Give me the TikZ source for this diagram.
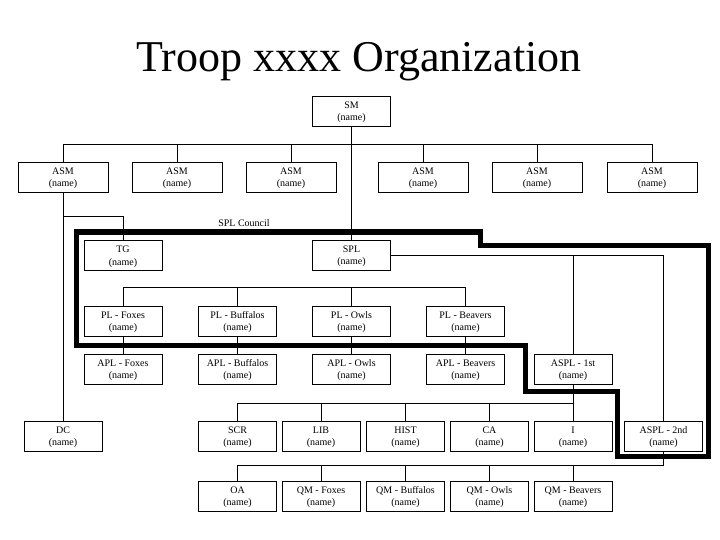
\documentclass[tikz,border=0pt]{standalone}
\usepackage{fontspec}
\setmainfont{Liberation Serif}
\usetikzlibrary{calc}
\tikzset{
  unit/.style={draw, line width=0.8pt, minimum width=78pt, minimum height=30pt,
    inner sep=0pt, align=center, text depth=-1.5pt, font=\fontsize{10}{12.5}\selectfont},
  asm/.style={unit, minimum width=90pt},
  link/.style={line width=0.8pt},
  council/.style={line width=5pt, line join=miter}
}

\begin{document}
\begin{tikzpicture}[x=1pt, y=-1pt]
  \useasboundingbox (0,0) rectangle (720,540);
  \node[font=\fontsize{44}{50}\selectfont, anchor=base] (title) at (359,72) {Troop xxxx Organization};

  % scoutmaster and assistants
  \node[unit] (sm) at (351.5,111) {SM\\(name)};
  \node[asm] (asmA) at (63,177) {ASM\\(name)};
  \node[asm] (asmB) at (177,177) {ASM\\(name)};
  \node[asm] (asmC) at (291,177) {ASM\\(name)};
  \node[asm] (asmD) at (423,177) {ASM\\(name)};
  \node[asm] (asmE) at (537,177) {ASM\\(name)};
  \node[asm] (asmF) at (652,177) {ASM\\(name)};

  % council
  \node[font=\fontsize{10}{12}\selectfont] (council) at (244,223) {SPL Council};
  \node[unit] (tg) at (123,255.5) {TG\\(name)};
  \node[unit] (spl) at (351.5,255) {SPL\\(name)};
  \node[unit] (plF) at (123,321) {PL - Foxes\\(name)};
  \node[unit] (plBu) at (237.5,321) {PL - Buffalos\\(name)};
  \node[unit] (plO) at (351.5,321) {PL - Owls\\(name)};
  \node[unit] (plBe) at (465.5,321) {PL - Beavers\\(name)};
  \node[unit] (aplF) at (123,369) {APL - Foxes\\(name)};
  \node[unit] (aplBu) at (237.5,369) {APL - Buffalos\\(name)};
  \node[unit] (aplO) at (351.5,369) {APL - Owls\\(name)};
  \node[unit] (aplBe) at (465.5,369) {APL - Beavers\\(name)};
  \node[unit] (aspl1) at (573,369) {ASPL - 1st\\(name)};

  % staff
  \node[unit] (dc) at (63,436) {DC\\(name)};
  \node[unit] (scr) at (237.5,436) {SCR\\(name)};
  \node[unit] (lib) at (321,436) {LIB\\(name)};
  \node[unit] (hist) at (405.5,436) {HIST\\(name)};
  \node[unit] (ca) at (489.5,436) {CA\\(name)};
  \node[unit] (inst) at (573,436) {I\\(name)};
  \node[unit] (aspl2) at (663.5,436) {ASPL - 2nd\\(name)};
  \node[unit] (oa) at (237.5,496) {OA\\(name)};
  \node[unit] (qmF) at (321,496) {QM - Foxes\\(name)};
  \node[unit] (qmBu) at (405.5,496) {QM - Buffalos\\(name)};
  \node[unit] (qmO) at (489.5,496) {QM - Owls\\(name)};
  \node[unit] (qmBe) at (573,496) {QM - Beavers\\(name)};

  \coordinate (asmbus) at (0,144);
  \coordinate (tgjoin) at (63,216);
  \coordinate (plbus) at (0,287);
  \coordinate (staffbus) at (0,403);
  \coordinate (qmbus) at (0,465);

  % lines
  \draw[link] (sm.south) -- (spl.north);
  \draw[link] (asmA.north) -- (asmA.north |- asmbus) -- (asmF.north |- asmbus) -- (asmF.north);
  \foreach \n in {asmB,asmC,asmD,asmE}
    \draw[link] (\n.north) -- (\n.north |- asmbus);
  \draw[link] (asmA.south) -- (dc.north);
  \draw[link] (tgjoin) -| (tg.north);
  \draw[link] (plF.north) -- (plF.north |- plbus) -- (plBe.north |- plbus) -- (plBe.north);
  \foreach \n in {plBu,plO}
    \draw[link] (\n.north) -- (\n.north |- plbus);
  \foreach \p in {F,Bu,O,Be}
    \draw[link] (pl\p.south) -- (apl\p.north);
  \draw[link] (spl.east) -| (aspl2.north);
  \draw[link] (aspl1.north) -- (aspl1.north |- spl.east);
  \draw[link] (aspl1.south) -- (inst.north);
  \draw[link] (scr.north) -- (scr.north |- staffbus) -- (inst.north |- staffbus);
  \foreach \n in {lib,hist,ca}
    \draw[link] (\n.north) -- (\n.north |- staffbus);
  \draw[link] (aspl2.south) -- (aspl2.south |- qmbus) -- (oa.north |- qmbus) -- (oa.north);
  \foreach \n in {qmF,qmBu,qmO,qmBe}
    \draw[link] (\n.north) -- (\n.north |- qmbus);

  % council outline
  \draw[council] (76,232) -- (480.5,232) -- (480.5,245.5) -- (708,245.5) -- (708,456)
    -- (617.5,456) -- (617.5,391.5) -- (525.5,391.5) -- (525.5,345) -- (76,345) -- cycle;
\end{tikzpicture}
\end{document}
